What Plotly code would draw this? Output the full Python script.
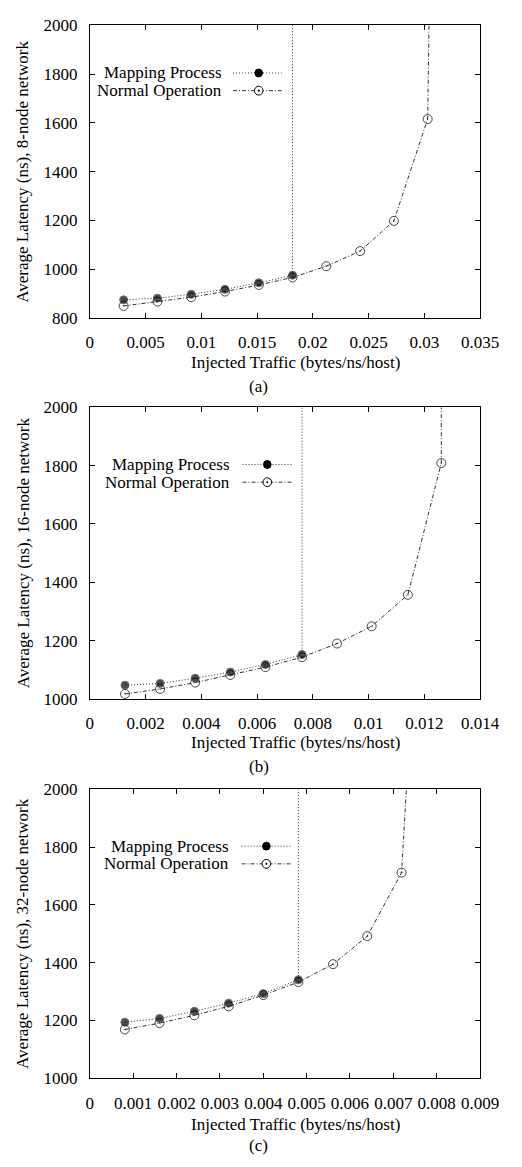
import plotly.graph_objects as go

# ---------------- data ----------------
# (a) 8-node network
a_map_x = [0.00303, 0.00606, 0.00909, 0.01212, 0.01515, 0.01818, 0.01818]
a_map_y = [874, 881, 897, 917, 944, 975, 2600]
a_norm_x = [0.00303, 0.00606, 0.00909, 0.01212, 0.01515, 0.01818, 0.02121, 0.02424, 0.02727, 0.0303, 0.03045]
a_norm_y = [849, 867, 885, 908, 935, 966, 1012, 1074, 1198, 1616, 2100]

# (b) 16-node network
b_map_x = [0.00126, 0.00252, 0.00378, 0.00504, 0.0063, 0.00761, 0.00761]
b_map_y = [1047, 1053, 1071, 1092, 1118, 1152, 2600]
b_norm_x = [0.00126, 0.00252, 0.00378, 0.00504, 0.0063, 0.00761, 0.00887, 0.01011, 0.01141, 0.01261, 0.01261]
b_norm_y = [1017, 1034, 1056, 1082, 1109, 1143, 1190, 1249, 1357, 1809, 2600]

# (c) 32-node network
c_map_x = [0.000807, 0.001607, 0.00241, 0.0032, 0.004, 0.00481, 0.00481]
c_map_y = [1194, 1207, 1232, 1260, 1293, 1341, 2600]
c_norm_x = [0.000807, 0.001607, 0.00241, 0.0032, 0.004, 0.00481, 0.00561, 0.0064, 0.00719, 0.00732]
c_norm_y = [1169, 1191, 1218, 1249, 1288, 1333, 1395, 1492, 1712, 2050]

series_names = ["Mapping Process", "Normal Operation"]
y_titles = ["Average Latency (ns), 8-node network",
            "Average Latency (ns), 16-node network",
            "Average Latency (ns), 32-node network"]
x_title = "Injected Traffic (bytes/ns/host)"
panel_labels = ["(a)", "(b)", "(c)"]

a_xticks = [0, 0.005, 0.01, 0.015, 0.02, 0.025, 0.03, 0.035]
a_xtext = ["0", "0.005", "0.01", "0.015", "0.02", "0.025", "0.03", "0.035"]
a_yticks = [800, 1000, 1200, 1400, 1600, 1800, 2000]
b_xticks = [0, 0.002, 0.004, 0.006, 0.008, 0.01, 0.012, 0.014]
b_xtext = ["0", "0.002", "0.004", "0.006", "0.008", "0.01", "0.012", "0.014"]
bc_yticks = [1000, 1200, 1400, 1600, 1800, 2000]
c_xticks = [0, 0.001, 0.002, 0.003, 0.004, 0.005, 0.006, 0.007, 0.008, 0.009]
c_xtext = ["0", "0.001", "0.002", "0.003", "0.004", "0.005", "0.006", "0.007", "0.008", "0.009"]

# ---------------- layout helpers ----------------
W, H = 522, 1167
FONT = "Liberation Serif, Times New Roman, DejaVu Serif, serif"
FS = 17
LINE_C = "#333333"
DOT = "1px,2px"
DASHDOT = "4px,2px,1px,2px"

def px(x):
    return x / W

def py(y):
    return 1 - y / H

x_dom = [px(90), px(499)]
panels = [
    dict(top=16.7, bot=314.0, xr=[0, 0.035], yr=[800, 2000], xt=a_xticks, xtt=a_xtext, yt=a_yticks,
         mx=a_map_x, my=a_map_y, nx=a_norm_x, ny=a_norm_y,
         xt_y=359, lab_y=384, leg_r=231, leg_y=[65, 83], leg_l=[240, 291], leg_m=267),
    dict(top=405.0, bot=701.3, xr=[0, 0.014], yr=[1000, 2000], xt=b_xticks, xtt=b_xtext, yt=bc_yticks,
         mx=b_map_x, my=b_map_y, nx=b_norm_x, ny=b_norm_y,
         xt_y=746, lab_y=770, leg_r=239, leg_y=[463, 481], leg_l=[250, 302], leg_m=276),
    dict(top=793.3, bot=1087.0, xr=[0, 0.009], yr=[1000, 2000], xt=c_xticks, xtt=c_xtext, yt=bc_yticks,
         mx=c_map_x, my=c_map_y, nx=c_norm_x, ny=c_norm_y,
         xt_y=1134, lab_y=1155, leg_r=238, leg_y=[851, 869], leg_l=[249, 301], leg_m=275),
]

fig = go.Figure()
annotations = []
shapes = []
layout_axes = {}

for i, p in enumerate(panels):
    k = "" if i == 0 else str(i + 1)
    xa, ya = "x" + k, "y" + k
    n_map = len(p["mx"]) - 1
    n_norm = len(p["nx"]) - 1
    # Normal Operation
    fig.add_trace(go.Scatter(
        x=p["nx"], y=p["ny"], xaxis=xa, yaxis=ya, mode="lines+markers", showlegend=False,
        name=series_names[1],
        line=dict(color=LINE_C, width=1, dash=DASHDOT),
        marker=dict(symbol="circle-open-dot", size=[9] * n_norm + [0], color="black",
                    line=dict(width=1, color="black")),
        cliponaxis=True))
    # Mapping Process
    fig.add_trace(go.Scatter(
        x=p["mx"], y=p["my"], xaxis=xa, yaxis=ya, mode="lines+markers", showlegend=False,
        name=series_names[0],
        line=dict(color=LINE_C, width=1, dash=DOT),
        marker=dict(symbol="circle", size=[8] * n_map + [0], color="black"),
        cliponaxis=True))

    common = dict(showgrid=False, zeroline=False, showline=True, linecolor="black", linewidth=1,
                  mirror="ticks", ticks="inside", ticklen=5, tickcolor="black", tickwidth=1,
                  tickfont=dict(family=FONT, size=FS, color="black"), fixedrange=True)
    layout_axes["xaxis" + k] = dict(common, domain=x_dom, range=p["xr"], anchor=ya,
                                    tickvals=p["xt"], ticktext=p["xtt"], ticklabelstandoff=9)
    layout_axes["yaxis" + k] = dict(common, domain=[py(p["bot"]), py(p["top"])], range=p["yr"],
                                    anchor=xa, tickvals=p["yt"],
                                    ticktext=[str(v) for v in p["yt"]], ticklabelstandoff=8)

    # titles
    annotations.append(dict(text=x_title, x=px(306), y=py(p["xt_y"]), xref="paper", yref="paper",
                            showarrow=False, xanchor="center", yanchor="middle",
                            font=dict(family=FONT, size=FS, color="black")))
    annotations.append(dict(text=panel_labels[i], x=px(267), y=py(p["lab_y"]), xref="paper", yref="paper",
                            showarrow=False, xanchor="center", yanchor="middle",
                            font=dict(family=FONT, size=FS, color="black")))
    annotations.append(dict(text=y_titles[i], x=px(20), y=py((p["top"] + p["bot"]) / 2),
                            xref="paper", yref="paper", textangle=-90,
                            showarrow=False, xanchor="center", yanchor="middle",
                            font=dict(family=FONT, size=FS, color="black")))
    # legend (gnuplot style: text left, sample right)
    dashes = [DOT, DASHDOT]
    for j, name in enumerate(series_names):
        ly = p["leg_y"][j]
        annotations.append(dict(text=name, x=px(p["leg_r"]), y=py(ly), xref="paper", yref="paper",
                                showarrow=False, xanchor="right", yanchor="middle",
                                font=dict(family=FONT, size=FS, color="black")))
        shapes.append(dict(type="line", xref="paper", yref="paper",
                           x0=px(p["leg_l"][0]), x1=px(p["leg_l"][1]), y0=py(ly), y1=py(ly),
                           line=dict(color=LINE_C, width=1, dash=dashes[j])))
        r = 4.0 if j == 0 else 4.5
        shapes.append(dict(type="circle", xref="paper", yref="paper",
                           x0=px(p["leg_m"] - r), x1=px(p["leg_m"] + r),
                           y0=py(ly + r), y1=py(ly - r),
                           fillcolor="black" if j == 0 else "white",
                           line=dict(color="black", width=1)))
        if j == 1:
            shapes.append(dict(type="circle", xref="paper", yref="paper",
                               x0=px(p["leg_m"] - 0.8), x1=px(p["leg_m"] + 0.8),
                               y0=py(ly + 0.8), y1=py(ly - 0.8),
                               fillcolor="black", line=dict(color="black", width=0.5)))

fig.update_layout(
    width=W, height=H,
    margin=dict(l=0, r=0, t=0, b=0),
    paper_bgcolor="white", plot_bgcolor="white",
    showlegend=False,
    annotations=annotations, shapes=shapes,
    font=dict(family=FONT, size=FS, color="black"),
    **layout_axes)

fig.write_html("out.html", config={"displayModeBar": False},
               post_script="document.body.style.margin='0';document.body.style.padding='0';")
